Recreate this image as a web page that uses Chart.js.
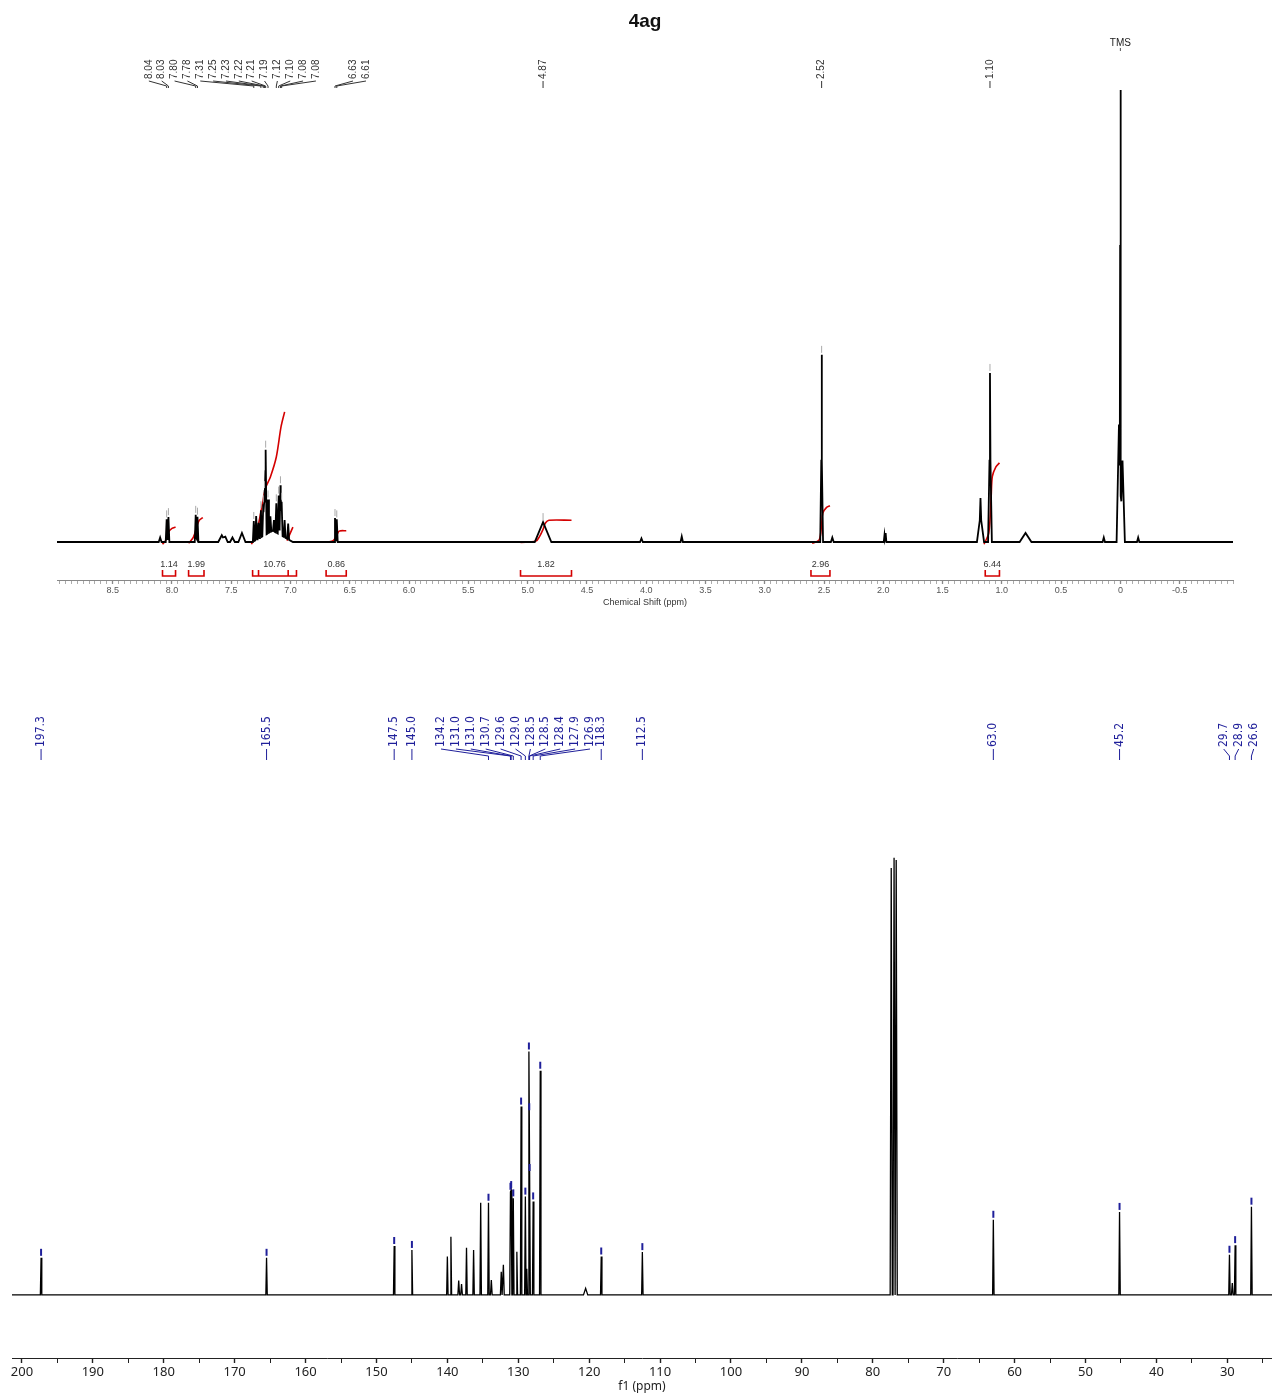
<!DOCTYPE html>
<html>
<head>
<meta charset="utf-8">
<title>4ag</title>
<script src="https://cdn.jsdelivr.net/npm/chart.js@4.4.0/dist/chart.umd.min.js"></script>
<style>
  html, body { margin: 0; padding: 0; background: #fff; }
  canvas { position: absolute; left: 0; }
  #grafico-h { top: 0; }
  #grafico-c { top: 620px; }
</style>
</head>
<body>
<canvas id="grafico-h" width="1272" height="620"></canvas>
<canvas id="grafico-c" width="1272" height="774"></canvas>
<script>
// ---- 1H (ppm, altura relativa TMS = 100, semiancho en ppm) ----
const desplazamientosH = [8.10, 8.045, 8.03, 7.80, 7.785, 7.58, 7.55, 7.49, 7.41, 7.15,
  7.31, 7.29, 7.27, 7.25, 7.23, 7.22, 7.21, 7.19, 7.17, 7.14, 7.12, 7.10, 7.085, 7.075, 7.05, 7.02,
  6.625, 6.61, 4.87, 4.04, 3.70, 2.52, 2.52, 2.43, 1.99, 1.98, 1.18, 1.18, 1.10, 1.10,
  0.80, 0.14, 0.012, 0.0, -0.018, -0.15];
const alturasH = [1.0, 5.0, 5.5, 6.0, 5.6, 1.5, 1.2, 1.0, 2.0, 2.5,
  4.5, 5.3, 3.5, 6.0, 7.0, 10.0, 18.8, 7.5, 3.5, 2.5, 6.5, 8.5, 11.0, 7.5, 3.8, 3.5,
  5.3, 5.0, 4.4, 0.8, 1.2, 24.0, 17.4, 1.0, 1.5, 2.0, 6.0, 3.7, 24.0, 13.4,
  2.0, 1.0, 26.0, 87.8, 18.0, 1.0];
const anchosH = [0.012, 0.008, 0.008, 0.008, 0.008, 0.03, 0.02, 0.02, 0.03, 0.17,
  0.008, 0.008, 0.008, 0.008, 0.008, 0.008, 0.008, 0.008, 0.008, 0.008, 0.008, 0.008, 0.008, 0.008, 0.008, 0.008,
  0.008, 0.008, 0.07, 0.012, 0.01, 0.012, 0.003, 0.012, 0.006, 0.006, 0.03, 0.006, 0.016, 0.004,
  0.05, 0.01, 0.02, 0.005, 0.02, 0.01];

const etiquetasH = ["8.04", "8.03", "7.80", "7.78", "7.31", "7.25", "7.23", "7.22", "7.21", "7.19",
  "7.12", "7.10", "7.08", "7.08", "6.63", "6.61", "4.87", "2.52", "1.10"];
const objetivosH = [8.045, 8.03, 7.80, 7.785, 7.31, 7.25, 7.23, 7.22, 7.21, 7.19,
  7.12, 7.10, 7.085, 7.075, 6.625, 6.61, 4.87, 2.52, 1.10];

// curvas de integral (ppm, altura)
const integralesH = [
  [[8.08, -0.5], [8.05, 0.5], [8.03, 2.2], [8.00, 3.0], [7.97, 3.3]],
  [[7.86, -0.3], [7.82, 1.0], [7.79, 3.5], [7.77, 4.8], [7.74, 5.4]],
  [[7.33, -0.5], [7.30, 1.0], [7.27, 4.0], [7.24, 8.0], [7.21, 12.0], [7.17, 14.4], [7.12, 18.8], [7.08, 25.5], [7.05, 28.8]],
  [[7.03, 0.3], [6.98, 3.3]],
  [[6.69, 0], [6.64, 0.3], [6.61, 1.5], [6.59, 2.4], [6.53, 2.5]],
  [[5.06, -0.1], [4.93, 0.2], [4.90, 1.2], [4.87, 2.8], [4.85, 4.2], [4.82, 4.8], [4.63, 4.8]],
  [[2.60, -0.3], [2.54, 0.5], [2.52, 4.0], [2.51, 6.4], [2.48, 7.6], [2.45, 8.0]],
  [[1.15, -0.5], [1.11, 2.0], [1.09, 10.0], [1.08, 14.5], [1.05, 16.6], [1.02, 17.5]]
];
const rangosIntegralH = [[8.08, 7.97], [7.86, 7.73], [7.32, 6.95], [6.70, 6.53], [5.06, 4.63], [2.61, 2.45], [1.14, 1.02]];
const valoresIntegralH = ["1.14", "1.99", "10.76", "0.86", "1.82", "2.96", "6.44"];
const marcasIntegralH = [7.27, 7.02];

const etiquetasEjeH = ["8.5", "8.0", "7.5", "7.0", "6.5", "6.0", "5.5", "5.0", "4.5", "4.0",
  "3.5", "3.0", "2.5", "2.0", "1.5", "1.0", "0.5", "0", "-0.5"];

// ---- 13C ----
const desplazamientosC = [197.3, 165.5, 147.5, 145.0, 140.0, 139.5, 138.4, 138.0, 137.3, 136.3,
  135.3, 134.2, 133.8, 132.4, 132.1, 131.1, 131.0, 130.7, 130.2, 129.6, 129.0, 128.8, 128.5,
  128.4, 127.9, 126.9, 120.5, 118.3, 112.5, 77.4, 77.0, 76.7, 63.0, 45.2, 29.7, 29.3, 28.9, 26.6];
const alturasC = [8.5, 8.5, 11.2, 10.3, 8.8, 13.3, 3.3, 2.5, 10.8, 10.3,
  21.1, 21.1, 3.4, 5.3, 6.9, 23.6, 24.0, 22.1, 9.9, 43.1, 22.5, 6.0, 55.7,
  27.9, 21.4, 51.3, 1.5, 8.8, 9.8, 97.7, 100, 99.5, 17.2, 19.0, 9.2, 2.7, 11.4, 20.2];
const anchosC = [0.1, 0.1, 0.1, 0.1, 0.1, 0.1, 0.12, 0.12, 0.1, 0.1,
  0.1, 0.1, 0.12, 0.12, 0.12, 0.1, 0.1, 0.1, 0.1, 0.1, 0.1, 0.1, 0.1,
  0.1, 0.1, 0.1, 0.3, 0.1, 0.1, 0.15, 0.15, 0.15, 0.1, 0.1, 0.1, 0.12, 0.1, 0.1];

const etiquetasC = ["197.3", "165.5", "147.5", "145.0", "134.2", "131.0", "131.0", "130.7", "129.6", "129.0",
  "128.5", "128.5", "128.4", "127.9", "126.9", "118.3", "112.5", "63.0", "45.2", "29.7", "28.9", "26.6"];
const objetivosC = [197.3, 165.5, 147.5, 145.0, 134.2, 131.1, 131.0, 130.7, 129.6, 129.0,
  128.5, 128.45, 128.4, 127.9, 126.9, 118.3, 112.5, 63.0, 45.2, 29.7, 28.9, 26.6];

const etiquetasEjeC = ["200", "190", "180", "170", "160", "150", "140", "130", "120", "110",
  "100", "90", "80", "70", "60", "50", "40", "30"];

// grupos de etiquetas: [inicio, fin, separacion px, desplazamiento px]
const gruposH = [[0, 13, 12.85, -12], [14, 15, 13, 23.6], [16, 16, 0, 0], [17, 17, 0, 0], [18, 18, 0, 0]];
const gruposC = [[0, 0, 0, 0], [1, 1, 0, 0], [2, 2, 0, 0], [3, 3, 0, 0], [4, 14, 14.9, -5.5],
  [15, 15, 0, 0], [16, 16, 0, 0], [17, 17, 0, 0], [18, 18, 0, 0], [19, 21, 15, 0]];

function alturaEn(v, pos, alt, anc) {
  let s = 0;
  pos.forEach((p, i) => {
    const d = Math.abs(v - p) / anc[i];
    if (d < 1) s += alt[i] * (1 - d);
  });
  return s;
}

function construirTraza(pos, alt, anc, xmin, xmax) {
  const cortes = new Set([xmin, xmax]);
  pos.forEach((p, i) => {
    cortes.add(p - anc[i]);
    cortes.add(p);
    cortes.add(p + anc[i]);
  });
  return [...cortes]
    .filter((v) => v >= xmin && v <= xmax)
    .sort((a, b) => b - a)
    .map((v) => ({ x: v, y: alturaEn(v, pos, alt, anc) }));
}

function ticksCada(scale, paso) {
  const t = [];
  const k0 = Math.ceil(scale.min / paso - 1e-9);
  for (let k = k0; k * paso <= scale.max + 1e-9; k++) {
    t.push({ value: Math.round(k * paso * 100) / 100 });
  }
  scale.ticks = t;
}

function posicionesEtiquetas(xScale, objetivos, grupos) {
  const xs = [];
  grupos.forEach(([a, b, sep, desp]) => {
    const px = [];
    for (let i = a; i <= b; i++) px.push(xScale.getPixelForValue(objetivos[i]));
    const centro = px.reduce((s, v) => s + v, 0) / px.length + desp;
    const n = px.length;
    px.forEach((_, j) => { xs[a + j] = centro + (j - (n - 1) / 2) * sep; });
  });
  return xs;
}

function dibujarEtiquetas(ctx, xScale, yScale, cfg) {
  const { textos, objetivos, grupos, pos, alt, anc, yTexto, yA, yB, yC, color, fuente, marca } = cfg;
  const xs = posicionesEtiquetas(xScale, objetivos, grupos);
  ctx.strokeStyle = color;
  ctx.fillStyle = color;
  ctx.lineWidth = 1;
  grupos.forEach(([a, b]) => {
    for (let i = a; i <= b; i++) {
      const px = xScale.getPixelForValue(objetivos[i]);
      const lx = xs[i];
      ctx.beginPath();
      if (a === b) {
        ctx.moveTo(px, yTexto + 2);
        ctx.lineTo(px, yC);
      } else {
        ctx.moveTo(lx, yTexto + 2);
        ctx.lineTo(lx, yA);
        ctx.lineTo(px, yB);
        ctx.lineTo(px, yC);
      }
      ctx.stroke();
      ctx.save();
      ctx.translate(lx, yTexto);
      ctx.rotate(-Math.PI / 2);
      ctx.font = fuente;
      ctx.textAlign = "left";
      ctx.textBaseline = "middle";
      ctx.fillText(textos[i], 0, 0);
      ctx.restore();
      // marca en la cima del pico
      const top = yScale.getPixelForValue(alturaEn(objetivos[i], pos, alt, anc));
      ctx.save();
      ctx.strokeStyle = marca;
      ctx.lineWidth = marca === color ? 2 : 1;
      ctx.beginPath();
      ctx.moveTo(px, top - 9);
      ctx.lineTo(px, top - 2);
      ctx.stroke();
      ctx.restore();
    }
  });
}

const pluginH = {
  id: "etiquetasH",
  afterDatasetsDraw(chart) {
    const ctx = chart.ctx;
    const x = chart.scales.x;
    const y = chart.scales.y;
    const area = chart.chartArea;
    ctx.save();
    ctx.fillStyle = "#111";
    ctx.font = 'bold 19px "Liberation Sans", Arial, sans-serif';
    ctx.textAlign = "center";
    ctx.textBaseline = "middle";
    ctx.fillText("4ag", (area.left + area.right) / 2, 22);

    const xTms = x.getPixelForValue(0);
    ctx.font = '10px "Liberation Sans", Arial, sans-serif';
    ctx.fillStyle = "#222";
    ctx.fillText("TMS", xTms, 43);
    ctx.strokeStyle = "#555";
    ctx.beginPath();
    ctx.moveTo(xTms, 48);
    ctx.lineTo(xTms, 51);
    ctx.stroke();

    dibujarEtiquetas(ctx, x, y, {
      textos: etiquetasH, objetivos: objetivosH, grupos: gruposH,
      pos: desplazamientosH, alt: alturasH, anc: anchosH,
      yTexto: 79, yA: 81, yB: 86, yC: 88, color: "#333",
      fuente: '10px "Liberation Sans", Arial, sans-serif', marca: "#aaa"
    });

    // barras de integral
    ctx.strokeStyle = "#d40000";
    ctx.lineWidth = 1.6;
    ctx.fillStyle = "#333";
    ctx.font = '9px "Liberation Sans", Arial, sans-serif';
    ctx.textAlign = "center";
    ctx.textBaseline = "middle";
    rangosIntegralH.forEach(([a, b], i) => {
      const xa = x.getPixelForValue(a);
      const xb = x.getPixelForValue(b);
      ctx.beginPath();
      ctx.moveTo(xa, 570);
      ctx.lineTo(xa, 576);
      ctx.lineTo(xb, 576);
      ctx.lineTo(xb, 570);
      marcasIntegralH.forEach((m) => {
        if (m < a && m > b) {
          const xm = x.getPixelForValue(m);
          ctx.moveTo(xm, 570);
          ctx.lineTo(xm, 576);
        }
      });
      ctx.stroke();
      ctx.fillText(valoresIntegralH[i], (xa + xb) / 2, 565);
    });
    ctx.restore();
  }
};

const pluginC = {
  id: "etiquetasC",
  afterDatasetsDraw(chart) {
    const ctx = chart.ctx;
    ctx.save();
    dibujarEtiquetas(ctx, chart.scales.x, chart.scales.y, {
      textos: etiquetasC, objetivos: objetivosC, grupos: gruposC,
      pos: desplazamientosC, alt: alturasC, anc: anchosC,
      yTexto: 127, yA: 129, yB: 136, yC: 140, color: "#1f1f9a",
      fuente: '12px "Liberation Sans Narrow", "DejaVu Sans Condensed", "Liberation Sans", sans-serif', marca: "#1f1f9a"
    });
    ctx.restore();
  }
};

const comunes = {
  responsive: false,
  animation: false,
  events: [],
  plugins: { legend: { display: false }, tooltip: { enabled: false } }
};

const minH = -0.95, maxH = 8.97;
new Chart(document.getElementById("grafico-h").getContext("2d"), {
  type: "line",
  data: {
    datasets: [
      {
        data: construirTraza(desplazamientosH, alturasH, anchosH, minH, maxH),
        borderColor: "#000",
        borderWidth: 1.8,
        pointRadius: 0,
        tension: 0
      },
      ...integralesH.map((curva) => ({
        data: curva.map(([p, v]) => ({ x: p, y: v })),
        borderColor: "#d40000",
        borderWidth: 1.6,
        pointRadius: 0,
        tension: 0.3
      }))
    ]
  },
  options: {
    ...comunes,
    layout: { padding: { left: 57, right: 39, top: 40, bottom: 0 } },
    scales: {
      x: {
        type: "linear",
        reverse: true,
        min: minH,
        max: maxH,
        afterBuildTicks: (s) => ticksCada(s, 0.05),
        afterFit: (s) => { s.height = 40; },
        border: { display: true, color: "#888", width: 1 },
        grid: {
          drawOnChartArea: false,
          tickLength: 4,
          tickColor: "#888",
          tickWidth: (c) => (c.tick && Math.abs(c.tick.value * 2 - Math.round(c.tick.value * 2)) < 1e-6 ? 1.3 : 0.7)
        },
        ticks: {
          autoSkip: false,
          maxRotation: 0,
          padding: 1,
          color: "#555",
          font: { family: '"Liberation Sans", Arial, sans-serif', size: 9 },
          callback: (v) => {
            const i = etiquetasEjeH.findIndex((s) => Math.abs(parseFloat(s) - v) < 1e-6);
            return i >= 0 ? etiquetasEjeH[i] : "";
          }
        },
        title: {
          display: true,
          text: "Chemical Shift (ppm)",
          color: "#333",
          font: { family: '"Liberation Sans", Arial, sans-serif', size: 9 },
          padding: { top: 12, bottom: 12 }
        }
      },
      y: { display: false, min: -8.41, max: 111.06 }
    }
  },
  plugins: [pluginH]
});

const minC = 23.7, maxC = 201.4;
new Chart(document.getElementById("grafico-c").getContext("2d"), {
  type: "line",
  data: {
    datasets: [
      {
        data: construirTraza(desplazamientosC, alturasC, anchosC, minC, maxC),
        borderColor: "#000",
        borderWidth: 1.3,
        pointRadius: 0,
        tension: 0
      }
    ]
  },
  options: {
    ...comunes,
    layout: { padding: { left: 12, right: 0, top: 150, bottom: 0 } },
    scales: {
      x: {
        type: "linear",
        reverse: true,
        min: minC,
        max: maxC,
        afterBuildTicks: (s) => ticksCada(s, 5),
        afterFit: (s) => { s.height = 36; },
        border: { display: true, color: "#222", width: 1 },
        grid: {
          drawOnChartArea: false,
          tickLength: 5,
          tickColor: "#222",
          tickWidth: (c) => (c.tick && c.tick.value % 10 === 0 ? 1.4 : 1)
        },
        ticks: {
          autoSkip: false,
          maxRotation: 0,
          padding: 1,
          color: "#222",
          font: { family: '"Noto Sans", "Open Sans", sans-serif', size: 13 },
          callback: (v) => {
            const i = etiquetasEjeC.findIndex((s) => Math.abs(parseFloat(s) - v) < 1e-6);
            return i >= 0 ? etiquetasEjeC[i] : "";
          }
        },
        title: {
          display: true,
          text: "f1 (ppm)",
          color: "#222",
          font: { family: '"Noto Sans", "Open Sans", sans-serif', size: 12 },
          padding: { top: 0, bottom: 0 }
        }
      },
      y: { display: false, min: -14.42, max: 120.1 }
    }
  },
  plugins: [pluginC]
});
</script>
</body>
</html>
